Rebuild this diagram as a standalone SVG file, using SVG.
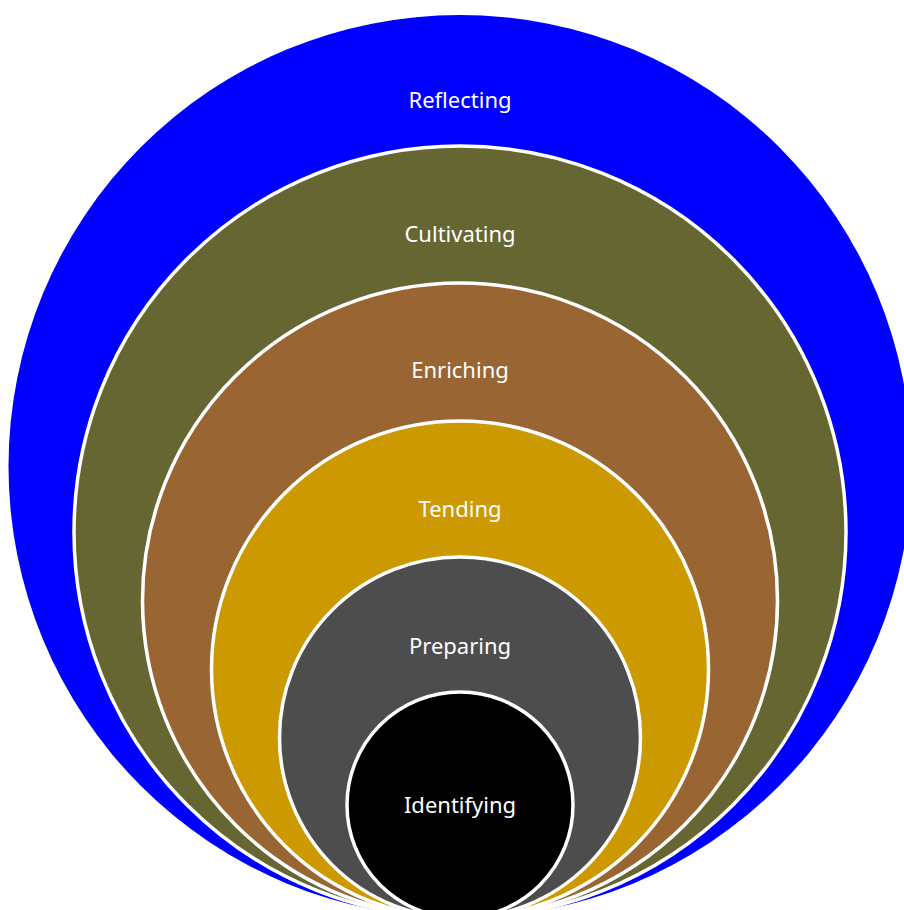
<svg xmlns="http://www.w3.org/2000/svg" width="904" height="910" viewBox="0 0 904 910">
  <style>
    .ring { stroke: #ffffff; stroke-width: 3.5; }
    .lbl { font-family: "Noto Sans", "Open Sans", sans-serif; font-size: 22px; fill: #ffffff; text-anchor: middle; }
  </style>
  <rect width="904" height="910" fill="#ffffff"/>
  <!-- Nested stages, all sharing a common bottom point -->
  <g id="reflecting">
    <circle cx="460" cy="466.5" r="451.5" fill="#0000ff"/>
    <text class="lbl" x="460" y="108">Reflecting</text>
  </g>
  <g id="cultivating">
    <circle class="ring" cx="460" cy="532" r="386" fill="#666633"/>
    <text class="lbl" x="460" y="242">Cultivating</text>
  </g>
  <g id="enriching">
    <circle class="ring" cx="460" cy="600.5" r="317.5" fill="#996633"/>
    <text class="lbl" x="460" y="378">Enriching</text>
  </g>
  <g id="tending">
    <circle class="ring" cx="460" cy="669.5" r="248.5" fill="#cc9900"/>
    <text class="lbl" x="460" y="517">Tending</text>
  </g>
  <g id="preparing">
    <circle class="ring" cx="460" cy="737.5" r="180.5" fill="#4d4d4d"/>
    <text class="lbl" x="460" y="654">Preparing</text>
  </g>
  <g id="identifying">
    <circle class="ring" cx="460" cy="805" r="113" fill="#000000"/>
    <text class="lbl" x="460" y="813">Identifying</text>
  </g>
  <g id="connectors"/>
</svg>
